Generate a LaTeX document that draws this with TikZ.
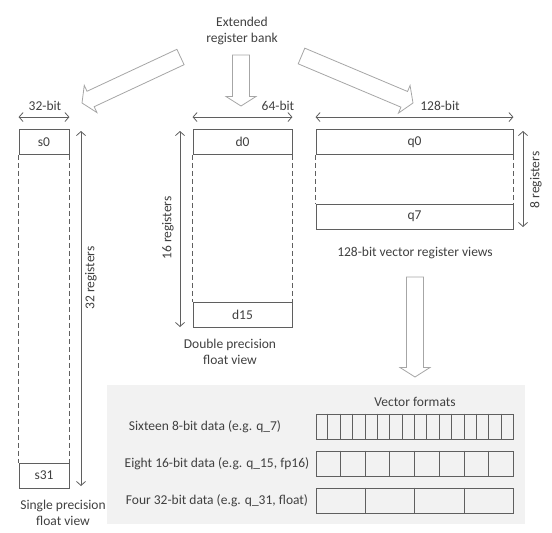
\documentclass[tikz,border=0pt]{standalone}
\usepackage{fontspec}
\setmainfont{Carlito}
\usepackage{xcolor}
\usepackage{tikz}
\usetikzlibrary{arrows.meta,positioning,calc}

\definecolor{txtgray}{HTML}{404040}
\definecolor{linegray}{HTML}{5F5F5F}
\definecolor{arrowgray}{HTML}{A6A6A6}
\definecolor{panelgray}{HTML}{F2F2F2}

% block arrow from #1 (tail) to #2 (tip)
\newcommand{\hollowarrow}[2]{%
    \draw[hollow] let \p1 = ($(#2)-(#1)$), \n1 = {atan2(\y1,\x1)} in
        ($(#1)+(\n1+90:8.5pt)$) -- ($(#2)+(\n1:-9.5pt)+(\n1+90:8.5pt)$)
        -- ($(#2)+(\n1:-9.5pt)+(\n1+90:15pt)$) -- (#2)
        -- ($(#2)+(\n1:-9.5pt)+(\n1-90:15pt)$) -- ($(#2)+(\n1:-9.5pt)+(\n1-90:8.5pt)$)
        -- ($(#1)+(\n1-90:8.5pt)$) -- cycle;}

\begin{document}
\begin{tikzpicture}[
    x=1pt, y=-1pt,
    every node/.style = {font=\fontsize{13.5}{16}\selectfont, text=txtgray},
    reg/.style = {draw=linegray, line width=0.9pt, minimum height=25pt, inner sep=0pt},
    span/.style = {draw=linegray, line width=0.8pt, {Straight Barb[length=4pt,width=9pt]}-{Straight Barb[length=4pt,width=9pt]}},
    gap/.style = {draw=linegray, line width=0.8pt, dash pattern=on 5pt off 3pt},
    lane/.style = {draw=linegray, line width=0.9pt},
    hollow/.style = {draw=arrowgray, fill=white, line width=0.8pt}
]
    \useasboundingbox (0,0) rectangle (552,533);

    % register bank and the three views
    \node[align=center] (bank) at (242,31) {Extended\\register bank};
    \coordinate (tailS) at (180.5,57);  \coordinate (tipS) at (82,103);
    \coordinate (tailD) at (241,55);    \coordinate (tipD) at (241,106);
    \coordinate (tailQ) at (301.5,56);  \coordinate (tipQ) at (413,103);
    \hollowarrow{tailS}{tipS}
    \hollowarrow{tailD}{tipD}
    \hollowarrow{tailQ}{tipQ}

    % single precision
    \node[reg, minimum width=50pt] (s0) at (44,142) {s0};
    \node[reg, minimum width=50pt] (s31) at (44,475.5) {s31};
    \draw[gap] (s0.south west) -- (s31.north west);
    \draw[gap] (s0.south east) -- (s31.north east);
    \draw[span] ($(s0.north west)+(0,-12)$) -- ($(s0.north east)+(0,-12)$);
    \node (w32) at (45,106) {32-bit};
    \draw[span] (81,131) coordinate (s32top) -- (81,486) coordinate (s32bot);
    \node[rotate=90] (n32) at (91,278) {32 registers};
    \node[align=center] (capS) at (63,513) {Single precision\\float view};

    % double precision
    \node[reg, minimum width=99pt] (d0) at (242.5,142) {d0};
    \node[reg, minimum width=99pt] (d15) at (242.5,314.5) {d15};
    \draw[gap] (d0.south west) -- (d15.north west);
    \draw[gap] (d0.south east) -- (d15.north east);
    \draw[span] ($(d0.north west)+(0,-12)$) -- ($(d0.north east)+(0,-12)$);
    \node (w64) at (278,106) {64-bit};
    \draw[span] (180,131) coordinate (d16top) -- (180,327) coordinate (d16bot);
    \node[rotate=90] (n16) at (168,228) {16 registers};
    \node[align=center] (capD) at (230,352) {Double precision\\float view};

    % 128-bit vector registers
    \node[reg, minimum width=197pt] (q0) at (414.5,142) {q0};
    \node[reg, minimum width=197pt] (q7) at (414.5,216.5) {q7};
    \draw[gap] (q0.south west) -- (q7.north west);
    \draw[gap] (q0.south east) -- (q7.north east);
    \draw[span] ($(q0.north west)+(0,-12)$) -- ($(q0.north east)+(0,-12)$);
    \node (w128) at (440,106) {128-bit};
    \draw[span] (523,131) coordinate (q8top) -- (523,227) coordinate (q8bot);
    \node[rotate=90] (n8) at (536,180) {8 registers};
    \node (capQ) at (415,253) {128-bit vector register views};

    \coordinate (tailF) at (415,277);  \coordinate (tipF) at (415,377);
    \hollowarrow{tailF}{tipF}

    % vector formats panel
    \fill[panelgray] (107,385) rectangle (525,524);
    \node (formats) at (415,402) {Vector formats};
    \node[lane, minimum width=197pt, minimum height=25pt] (lanes16) at (414.5,426.5) {};
    \node[lane, minimum width=197pt, minimum height=25pt] (lanes8) at (414.5,463.5) {};
    \node[lane, minimum width=197pt, minimum height=25pt] (lanes4) at (414.5,500.5) {};
    \foreach \n in {16,8,4} {
        \pgfmathtruncatemacro{\last}{\n-1}
        \foreach \k in {1,...,\last}
            \draw[lane] ($(lanes\n.north west)!\k/\n!(lanes\n.north east)$)
                     -- ($(lanes\n.south west)!\k/\n!(lanes\n.south east)$);
    }
    \node (fmt16) at (205,427) {Sixteen 8-bit data (e.g. q\_7)};
    \node (fmt8) at (217,464) {Eight 16-bit data (e.g. q\_15, fp16)};
    \node (fmt4) at (217,501) {Four 32-bit data (e.g. q\_31, float)};
\end{tikzpicture}
\end{document}
